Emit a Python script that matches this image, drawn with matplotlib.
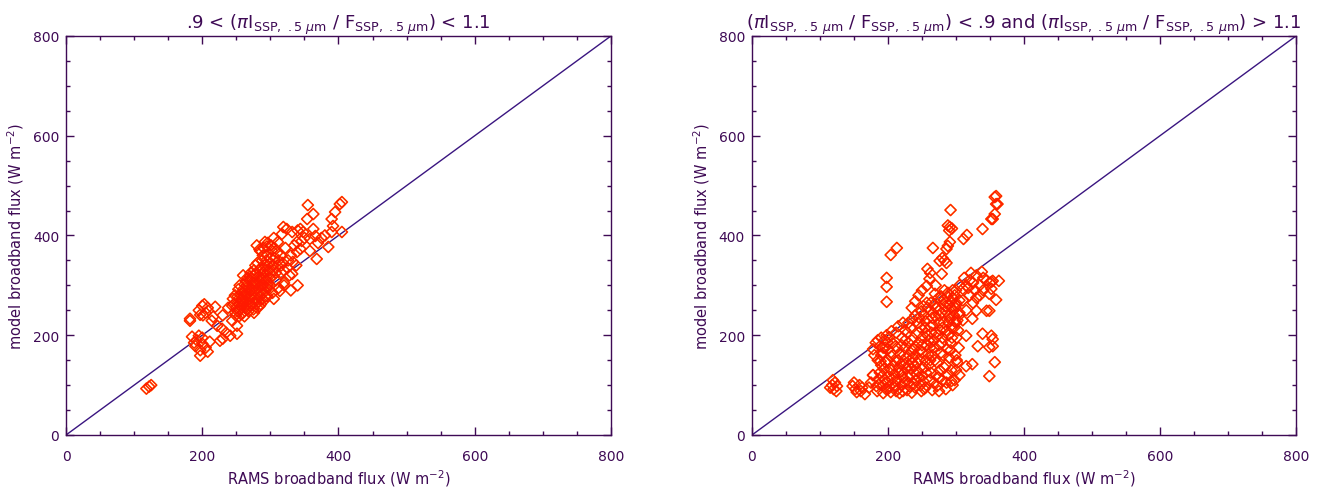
import numpy as np
import matplotlib
matplotlib.use('Agg')
import matplotlib.pyplot as plt
from matplotlib.ticker import MultipleLocator

plt.rcParams['font.family'] = ['DejaVu Sans']
plt.rcParams['mathtext.fontset'] = 'dejavusans'

INK = '#3e0a55'
LINE = '#3a1580'
ORANGE = '#ff7a10'
RED = '#ff1a00'

# left panel: .9 < ratio < 1.1
left_x = [118, 122, 125,
          182, 185, 188, 190, 192, 195, 197, 197, 200, 200, 201, 203, 205, 208, 211, 214,
          216, 219, 222, 226, 229, 230, 235, 241, 244, 244, 245, 251, 251, 248, 200, 197,
          182, 208, 195, 205,
          250, 252, 255, 255, 258, 258, 260, 260, 262, 263, 265, 265, 266, 268, 268, 270,
          270, 271, 272, 274, 275, 275, 276, 278, 278, 280, 280, 281, 282, 283, 285, 285,
          285, 286, 288, 288, 290, 290, 291, 292, 292, 293, 295, 295, 296, 298, 300, 300,
          300, 302, 303, 305, 305, 306, 308, 310, 311, 312, 314, 315, 316, 317, 318, 319,
          320, 322, 324, 325, 326, 328, 330, 332, 332, 333, 335, 338, 339, 339, 340, 344,
          344, 346, 348, 350, 354, 355, 358, 358, 363, 363, 366, 368, 385, 390, 390, 392,
          395, 402, 405, 405, 380, 375, 370,
          256, 259, 261, 264, 267, 269, 272, 273, 277, 279, 283, 284, 287, 289, 293, 297,
          262, 266, 271, 276, 281, 286, 289, 294, 299, 304, 280, 284, 290, 296, 301, 249,
          252, 257, 262, 246, 248, 253, 254, 230, 238, 300, 305, 295, 260, 255, 320, 330, 340,
          258, 261, 263, 265, 267, 269, 271, 273, 275, 277, 279, 281, 282, 284, 286, 288,
          290, 292, 294, 296, 298, 257, 254, 252, 260, 264, 270, 274, 278, 286, 292, 296,
          300, 304, 308, 312, 316, 320, 310, 306]
left_y = [93, 97, 100,
          233, 197, 185, 178, 190, 199, 159, 170, 183, 195, 240, 262, 175, 167, 187, 229,
          237, 257, 219, 189, 213, 193, 205, 199, 229, 259, 273, 219, 203, 246, 259, 241,
          229, 255, 250, 245,
          255, 265, 250, 275, 260, 285, 245, 270, 290, 255, 280, 300, 262, 248, 272, 290,
          310, 258, 280, 300, 265, 320, 245, 288, 340, 270, 305, 255, 295, 330, 280, 315,
          369, 262, 300, 350, 285, 325, 270, 387, 340, 310, 295, 360, 278, 330, 315, 345,
          300, 370, 285, 330, 273, 355, 310, 340, 387, 295, 289, 360, 325, 403, 345, 417,
          305, 375, 413, 335, 350, 320, 360, 407, 323, 347, 380, 340, 387, 367, 410, 373,
          413, 389, 407, 395, 433, 461, 393, 369, 413, 443, 399, 353, 377, 433, 407, 419,
          447, 463, 467, 407, 400, 395, 385,
          258, 268, 278, 266, 285, 295, 262, 305, 275, 292, 268, 308, 288, 312, 278, 305,
          302, 315, 325, 330, 345, 335, 360, 350, 325, 340, 380, 372, 375, 385, 380, 240,
          248, 242, 238, 262, 280, 292, 238, 240, 255, 380, 395, 378, 320, 300, 300, 290, 300,
          272, 262, 284, 252, 298, 266, 276, 290, 252, 300, 262, 282, 318, 258, 298, 272,
          300, 288, 318, 300, 292, 282, 262, 278, 292, 308, 318, 312, 322, 322, 330, 340,
          355, 320, 325, 350, 340, 330, 365, 375]

# right panel: ratio < .9 or ratio > 1.1
right_x = [115, 118, 120, 122, 125, 119, 124,
           148, 150, 152, 154, 158, 162, 166, 160, 175, 178, 172,
           198, 198, 198, 204, 213,
           258, 266, 276, 279, 261, 257, 269, 286, 288, 291, 292, 291, 288, 294, 290, 311,
           316, 339, 354, 357, 359, 357, 361, 352, 359, 245, 250, 262, 270, 240, 235, 280,
           283, 286,
           310, 315, 320, 325, 330, 335, 340, 345, 312, 318, 328, 338, 322, 350, 354, 349,
           363, 352, 352, 359, 345, 349, 330, 324, 315, 339, 354, 352, 332, 349, 354, 357,
           349, 315, 324, 293, 305, 300, 310, 320, 330, 305, 300, 310, 315, 325, 335, 340,
           300, 305,
           183, 186, 188, 190, 185, 192, 188, 195, 197, 199, 201, 203, 196, 205, 200, 207,
           210, 212, 214, 209, 216, 211, 218, 213, 220, 222, 219, 224, 226, 221, 184, 193,
           204, 217,
           228, 230, 233, 227, 236, 231, 238, 240, 242, 235, 244, 239, 246, 228, 233, 225,
           230,
           248, 250, 252, 255, 250, 257, 246, 249, 253, 258, 255, 261, 263, 260, 265, 262,
           268, 264, 266, 270, 263, 272, 274, 276, 272, 278, 275, 280, 277, 282, 279, 284,
           274, 286, 288, 285, 290, 287, 292, 289, 294, 291, 296, 293, 298, 300, 302, 299,
           304, 301, 303, 298, 305, 300, 295, 283, 288, 278,
           182, 190, 198, 205, 215, 222, 236, 240, 212, 202, 185,
           195, 205, 215, 225, 235, 245, 255, 265, 275, 285, 295, 260, 270, 280, 290, 250,
           240, 230, 220, 210, 200, 190, 245, 255, 265, 275, 285, 295, 305, 298,
           178, 180, 178,
           187, 191, 194, 189, 193, 199, 202, 206, 208, 204, 211, 215, 217, 219, 223, 225,
           229, 232, 234, 237, 241, 243, 247, 249, 252, 256, 259, 262, 258, 263, 267, 269,
           271, 273, 276, 279, 281, 283, 286, 289, 292, 294, 297, 299, 302, 297, 285, 290,
           275, 270, 266, 255, 250, 245, 240, 235, 230, 225, 220, 248, 244, 258, 262, 268,
           282, 287, 293, 252, 257, 196, 193, 200, 222, 238, 253, 268, 280, 293, 301]
right_y = [95, 100, 92, 105, 98, 110, 88,
           98, 105, 92, 86, 100, 95, 82, 88, 105, 120, 95,
           315, 297, 267, 361, 375,
           333, 375, 349, 323, 313, 299, 283, 373, 379, 387, 451, 417, 420, 414, 410, 393,
           401, 413, 433, 477, 463, 443, 463, 433, 479, 280, 290, 325, 300, 268, 255, 355,
           350, 345,
           293, 300, 310, 305, 320, 300, 315, 310, 315, 295, 290, 327, 325, 305, 309, 283,
           309, 307, 293, 271, 249, 249, 249, 233, 199, 203, 192, 199, 178, 176, 178, 146,
           118, 138, 142, 108, 270, 260, 270, 280, 275, 240, 225, 230, 250, 265, 280, 290,
           290, 300,
           98, 112, 125, 140, 150, 165, 178, 190, 92, 106, 118, 132, 146, 158, 172, 184,
           95, 88, 110, 122, 136, 148, 162, 175, 100, 115, 128, 142, 155, 195, 88, 84,
           86, 84,
           90, 105, 120, 132, 145, 160, 172, 95, 110, 85, 128, 138, 152, 205, 215, 210,
           225,
           100, 118, 135, 148, 165, 180, 235, 248, 240, 255, 228, 110, 125, 140, 160, 175,
           190, 205, 220, 238, 265, 98, 115, 130, 145, 165, 180, 195, 210, 225, 245, 258,
           275, 105, 120, 140, 155, 172, 185, 200, 215, 232, 250, 268, 280, 130, 145, 160,
           175, 195, 210, 228, 245, 265, 290, 290, 285, 278,
           185, 195, 200, 208, 218, 225, 232, 240, 205, 196, 190,
           110, 130, 150, 175, 190, 205, 215, 235, 250, 265, 275, 190, 205, 215, 240, 180,
           160, 140, 120, 100, 150, 160, 115, 95, 90, 88, 92, 100, 120, 110,
           120, 160, 172,
           102, 118, 132, 148, 175, 186, 98, 112, 140, 165, 178, 92, 125, 142, 160, 105,
           118, 98, 132, 155, 122, 145, 170, 88, 108, 125, 162, 150, 200, 185, 175, 150,
           120, 200, 225, 185, 160, 135, 210, 225, 170, 195, 240, 255, 230, 215, 248, 262,
           240, 255, 245, 205, 195, 185, 178, 170, 185, 190, 180, 215, 225, 232, 218, 262,
           270, 278, 255, 258, 265, 175, 100, 92, 88, 102, 92, 105, 110, 130, 150]

ticks = [0, 200, 400, 600, 800]
sub = r'_{\mathrm{SSP,\ .5\ }\mu\mathrm{m}}'
ratio = r'$\pi$I$' + sub + r'$ / F$' + sub + r'$'
titles = ['.9 < (' + ratio + ') < 1.1',
          '(' + ratio + ') < .9 and (' + ratio + ') > 1.1']

fig = plt.figure(figsize=(13.23, 4.89), dpi=100)
ax1 = fig.add_axes([0.0499, 0.1084, 0.4119, 0.8160])
ax2 = fig.add_axes([0.5684, 0.1084, 0.4112, 0.8160])

for ax, xs, ys, title in [(ax1, left_x, left_y, titles[0]),
                          (ax2, right_x, right_y, titles[1])]:
    ax.plot([0, 800], [0, 800], color=LINE, lw=1.0, zorder=1)
    ax.scatter(xs, ys, marker='D', s=32, facecolors='none',
               edgecolors=ORANGE, linewidths=1.2, zorder=2)
    ax.scatter(xs, ys, marker='D', s=32, facecolors='none',
               edgecolors=RED, linewidths=0.75, zorder=3)
    ax.set_xlim(0, 800)
    ax.set_ylim(0, 800)
    ax.set_xticks(ticks)
    ax.set_yticks(ticks)
    ax.xaxis.set_minor_locator(MultipleLocator(50))
    ax.yaxis.set_minor_locator(MultipleLocator(50))
    ax.tick_params(which='both', direction='in', top=True, right=True,
                   colors=INK, labelsize=10, width=1.0)
    ax.tick_params(which='major', length=5.5)
    ax.tick_params(axis='x', which='major', pad=10)
    ax.tick_params(axis='y', which='major', pad=5)
    ax.tick_params(which='minor', length=3)
    for s in ax.spines.values():
        s.set_color(INK)
        s.set_linewidth(1.0)
    ax.set_xlabel(r'RAMS broadband flux (W m$^{-2}$)', color=INK, fontsize=10.5, labelpad=3)
    ax.set_ylabel(r'model broadband flux (W m$^{-2}$)', color=INK, fontsize=10.5, labelpad=5)
    ax.set_title(title, color=INK, fontsize=13, pad=6)

fig.savefig('out.png', dpi=100, facecolor='white')
